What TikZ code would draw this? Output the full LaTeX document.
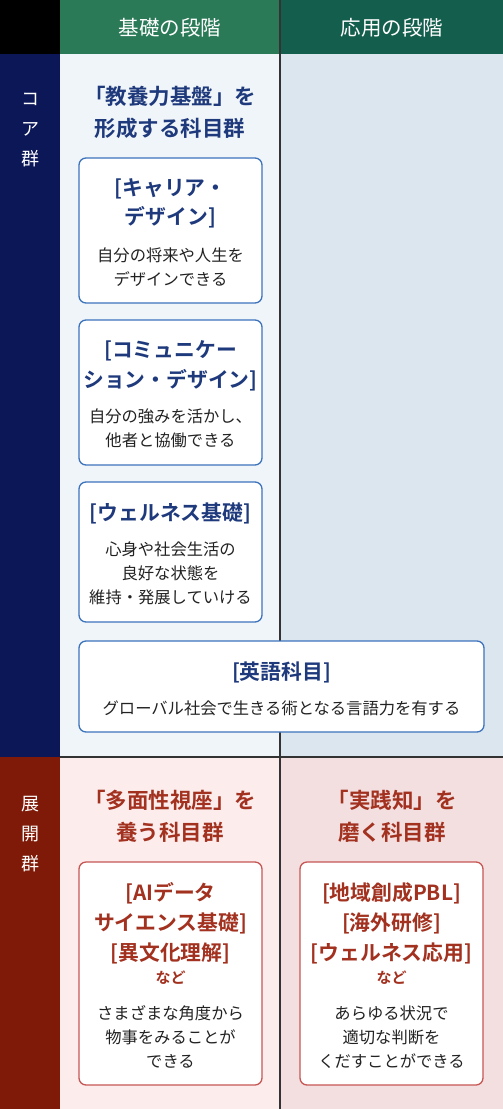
\documentclass[tikz,border=0pt]{standalone}
\usepackage{fontspec}
\setmainfont{Noto Sans CJK JP}[BoldFont={Noto Sans CJK JP Bold}]
\usetikzlibrary{positioning}
\definecolor{headA}{HTML}{2B7A57}
\definecolor{headB}{HTML}{145E4D}
\definecolor{coreSide}{HTML}{0B1757}
\definecolor{coreA}{HTML}{F0F5F9}
\definecolor{coreB}{HTML}{DCE6EE}
\definecolor{devSide}{HTML}{7E1A07}
\definecolor{devA}{HTML}{FCECEC}
\definecolor{devB}{HTML}{F3DFE0}
\definecolor{coreInk}{HTML}{1F3A7C}
\definecolor{devInk}{HTML}{A2311F}
\definecolor{coreLine}{HTML}{3C73BC}
\definecolor{devLine}{HTML}{C65653}
\definecolor{gridInk}{HTML}{333333}
\definecolor{bodyInk}{HTML}{222222}

\begin{document}
\begin{tikzpicture}[x=1pt,y=-1pt,
		every node/.style={inner sep=0pt, align=center},
		head/.style={text=white, font=\fontsize{20.5}{20.5}\selectfont},
		side/.style={text=white, font=\fontsize{18}{30}\selectfont},
		coreHead/.style={text=coreInk, font=\bfseries\fontsize{21.5}{32}\selectfont},
		devHead/.style={text=devInk, font=\bfseries\fontsize{21.5}{32}\selectfont},
		coreBox/.style={draw=coreLine, line width=1.3pt, rounded corners=7pt, fill=white, minimum width=183pt},
		devBox/.style={draw=devLine, line width=1.3pt, rounded corners=7pt, fill=white, minimum width=183pt, minimum height=223pt},
		coreTitle/.style={text=coreInk, font=\bfseries\fontsize{20.8}{29.5}\selectfont},
		devTitle/.style={text=devInk, font=\bfseries\fontsize{20.8}{30}\selectfont},
		etc/.style={text=devInk, font=\bfseries\fontsize{15}{15}\selectfont},
		desc/.style={text=bodyInk, font=\fontsize{16.3}{24}\selectfont}]
	\useasboundingbox (0,0) rectangle (503,1109);
	% table cells
	\fill[black] (0,0) rectangle (60,54);
	\fill[headA] (60,0) rectangle (280,54);
	\fill[headB] (280,0) rectangle (503,54);
	\fill[coreSide] (0,54) rectangle (60,757);
	\fill[coreA] (60,54) rectangle (280,757);
	\fill[coreB] (280,54) rectangle (503,757);
	\fill[devSide] (0,757) rectangle (60,1109);
	\fill[devA] (60,757) rectangle (280,1109);
	\fill[devB] (280,757) rectangle (503,1109);
	\draw[gridInk, line width=1.2pt] (280,0) -- (280,1109);
	\draw[gridInk, line width=1.2pt] (60,757) -- (503,757);

	% header row
	\node[head] (basic) at (170,28) {基礎の段階};
	\node[head] (applied) at (392,28) {応用の段階};

	% core group
	\node[side] (coreLabel) at (30,130) {コ\\ア\\群};
	\node[coreHead] (coreHd) at (170,112) {「教養力基盤」を\\形成する科目群};

	\node[coreBox, minimum height=145pt] (career) at (170.5,230.5) {};
	\node[coreTitle] (careerT) at (170.5,203.5) {[キャリア・\\デザイン]};
	\node[desc] (careerD) at (170.5,267) {自分の将来や人生を\\デザインできる};

	\node[coreBox, minimum height=145pt] (comm) at (170.5,392.5) {};
	\node[coreTitle] (commT) at (170.5,366) {[コミュニケー\\ション・デザイン]};
	\node[desc] (commD) at (170.5,428) {自分の強みを活かし、\\他者と協働できる};

	\node[coreBox, minimum height=140pt] (wellness) at (170.5,552) {};
	\node[coreTitle] (wellnessT) at (170.5,513) {[ウェルネス基礎]};
	\node[desc] (wellnessD) at (170.5,573) {心身や社会生活の\\良好な状態を\\維持・発展していける};

	\node[coreBox, minimum width=405pt, minimum height=91pt] (english) at (281.5,686.5) {};
	\node[coreTitle] (englishT) at (281.5,672) {[英語科目]};
	\node[desc] (englishD) at (281.5,708) {グローバル社会で生きる術となる言語力を有する};

	% development group
	\node[side] (devLabel) at (30,834) {展\\開\\群};
	\node[devHead] (devHdA) at (170,816) {「多面性視座」を\\養う科目群};
	\node[devHead] (devHdB) at (392,816) {「実践知」を\\磨く科目群};

	\node[devBox] (dataSci) at (170.5,973.5) {};
	\node[devTitle] (dataSciT) at (170.5,923) {[AIデータ\\サイエンス基礎]\\{}[異文化理解]};
	\node[etc] (dataSciE) at (170.5,978) {など};
	\node[desc] (dataSciD) at (170.5,1037) {さまざまな角度から\\物事をみることが\\できる};

	\node[devBox] (local) at (391.5,973.5) {};
	\node[devTitle] (localT) at (391.5,923) {[地域創成PBL]\\{}[海外研修]\\{}[ウェルネス応用]};
	\node[etc] (localE) at (391.5,978) {など};
	\node[desc] (localD) at (391.5,1037) {あらゆる状況で\\適切な判断を\\くだすことができる};
\end{tikzpicture}
\end{document}
